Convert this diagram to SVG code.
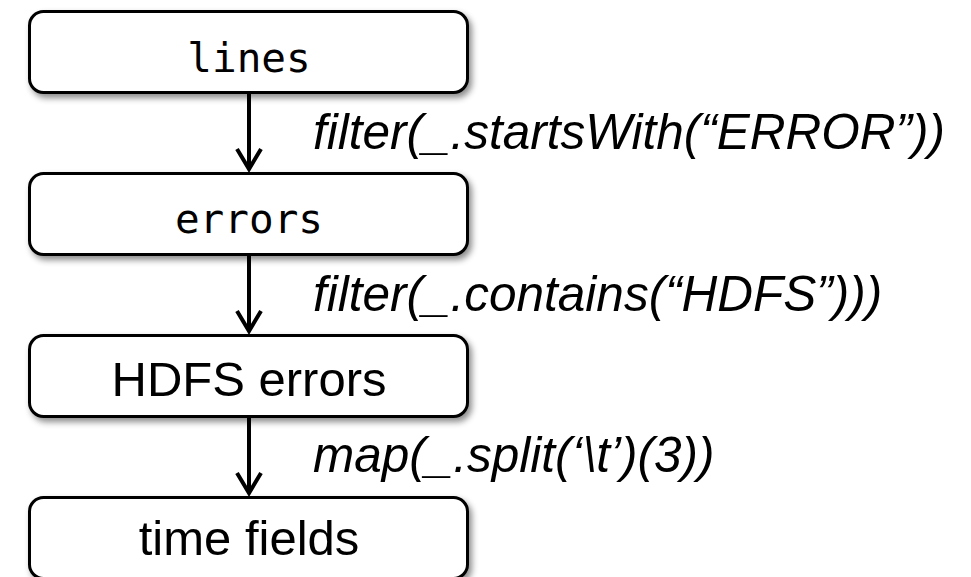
<svg xmlns="http://www.w3.org/2000/svg" width="971" height="577" viewBox="0 0 971 577">
<style>
.box{fill:#fff;stroke:#000;stroke-width:3;filter:url(#sh)}
.mono{font-family:"DejaVu Sans Mono","Liberation Mono",monospace;font-size:41px;text-anchor:middle;fill:#000}
.sans{font-family:"Liberation Sans",Arial,sans-serif;font-size:49px;text-anchor:middle;fill:#000}
.lbl{font-family:"Liberation Sans",Arial,sans-serif;font-size:49.5px;font-style:italic;fill:#000}
.edge{stroke:#000;stroke-width:4;fill:none}
.head{stroke:#000;stroke-width:4;fill:none;stroke-linejoin:miter}
</style>
<defs>
<filter id="sh" x="-10%" y="-20%" width="120%" height="150%">
<feDropShadow dx="3" dy="4" stdDeviation="3" flood-color="#000" flood-opacity="0.45"/>
</filter>
</defs>
<rect width="971" height="577" fill="#fff"/>
<g id="connectors">
<line class="edge" x1="249" y1="93" x2="249" y2="169"/>
<polyline class="head" points="237,149 249,169 261,149"/>
<line class="edge" x1="249" y1="255" x2="249" y2="331"/>
<polyline class="head" points="237,311 249,331 261,311"/>
<line class="edge" x1="249" y1="417" x2="249" y2="493"/>
<polyline class="head" points="237,473 249,493 261,473"/>
<text class="lbl" x="313" y="149">filter(_.startsWith(“ERROR”))</text>
<text class="lbl" x="313" y="311">filter(_.contains(“HDFS”)))</text>
<text class="lbl" x="313" y="472">map(_.split(‘\t’)(3))</text>
</g>
<g id="lines">
<rect class="box" x="29.5" y="11.5" width="438" height="81" rx="14"/>
<text class="mono" x="249" y="72">lines</text>
</g>
<g id="errors">
<rect class="box" x="29.5" y="173.5" width="438" height="81" rx="14"/>
<text class="mono" x="249" y="233">errors</text>
</g>
<g id="hdfs_errors">
<rect class="box" x="29.5" y="335.5" width="438" height="81" rx="14"/>
<text class="sans" x="249" y="396">HDFS errors</text>
</g>
<g id="time_fields">
<rect class="box" x="29.5" y="497.5" width="438" height="81" rx="14"/>
<text class="sans" x="249" y="555">time fields</text>
</g>
</svg>
